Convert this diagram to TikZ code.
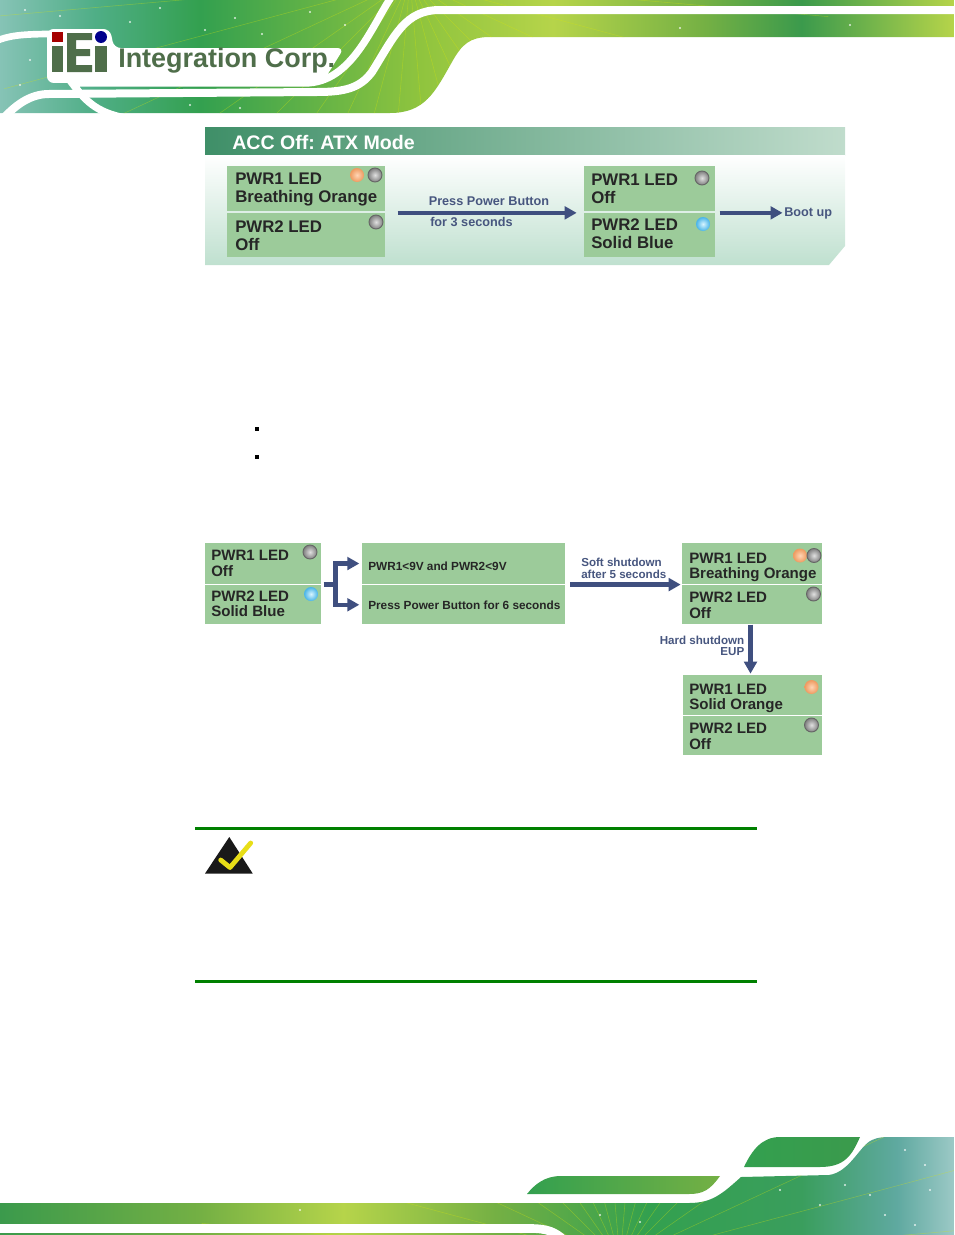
\documentclass[tikz,border=0pt]{standalone}
\usepackage{fontspec}
\setmainfont{Liberation Sans}
\usepackage{xcolor}
\usetikzlibrary{shapes,positioning,calc,arrows.meta}

\definecolor{panelgreen}{HTML}{9CCB9A}
\definecolor{flowblue}{HTML}{3F4F7F}
\definecolor{labelblue}{HTML}{47567F}
\definecolor{logogreen}{HTML}{4F6E4A}
\definecolor{rulegreen}{HTML}{008000}
\definecolor{titlea}{HTML}{3F8F68}
\definecolor{titleb}{HTML}{C0DCCC}
\definecolor{bodyend}{HTML}{BFE0CF}
\definecolor{teala}{HTML}{86C3B6}
\definecolor{tealb}{HTML}{4FAE86}
\definecolor{greena}{HTML}{33A04F}
\definecolor{greenb}{HTML}{3B9A4C}
\definecolor{greenc}{HTML}{74B044}
\definecolor{limea}{HTML}{8FC43E}
\definecolor{limeb}{HTML}{B6D44A}
\definecolor{seaa}{HTML}{3A9E5D}
\definecolor{seab}{HTML}{5FA9A0}
\definecolor{seac}{HTML}{9CC9C6}
\definecolor{orangeout}{HTML}{EE9A5F}
\definecolor{orangein}{HTML}{FFD5B5}
\definecolor{blueout}{HTML}{48B4E8}
\definecolor{bluein}{HTML}{D8F4FF}

\pgfdeclarehorizontalshading{headband}{100bp}{color(0bp)=(teala); color(25bp)=(teala);
  color(30bp)=(tealb); color(35.5bp)=(greena); color(47bp)=(limea);
  color(54bp)=(limeb); color(62bp)=(greenc); color(67bp)=(greenb); color(75bp)=(limeb); color(100bp)=(limeb)}
\pgfdeclarehorizontalshading{footband}{100bp}{color(0bp)=(greenb); color(25bp)=(greenb);
  color(35.5bp)=(greenc); color(43bp)=(limeb); color(51bp)=(greenc); color(59bp)=(greena);
  color(67bp)=(seaa); color(72bp)=(seab); color(75bp)=(seac); color(100bp)=(seac)}
\pgfdeclarehorizontalshading{titleband}{100bp}{color(0bp)=(titlea); color(25bp)=(titlea); color(75bp)=(titleb); color(100bp)=(titleb)}

\newcommand{\headshape}{(0,0) -- (954,0) -- (954,37) -- (490,37) .. controls (470,37) and (462,44) .. (452,62) .. controls (435,92) and (425,113) .. (390,113) -- (0,113) -- cycle}
\newcommand{\footshape}{(0,1203) -- (689,1203) .. controls (712,1203) and (722,1194) .. (741,1177) -- (829,1175) .. controls (850,1172) and (860,1145) .. (872,1140) .. controls (878,1137) and (885,1137) .. (890,1137) -- (954,1137) -- (954,1235) -- (0,1235) -- cycle}

\begin{document}
\begin{tikzpicture}[x=0.75pt, y=-0.75pt,
    panel/.style 2 args={anchor=north west, fill=panelgreen, inner sep=0pt, minimum width=#1*0.75pt, minimum height=#2*0.75pt},
    bigtext/.style={anchor=west, inner sep=0pt, align=left, text=black!85, font=\fontsize{12.6}{13.2}\selectfont\bfseries},
    smalltext/.style={anchor=west, inner sep=0pt, align=left, text=black!85, font=\fontsize{11.3}{11.7}\selectfont\bfseries},
    steptext/.style={anchor=west, inner sep=0pt, text=black!85, font=\fontsize{8.85}{9}\selectfont\bfseries},
    flowline/.style={draw=flowblue, line width=3.4pt},
    flow/.style={flowline, -{Triangle[length=9pt, width=9.5pt]}},
    flowlabel/.style={text=labelblue, inner sep=0pt, align=center, font=\fontsize{9.5}{9.6}\selectfont\bfseries},
    led/.style={circle, minimum size=14*0.75pt, inner sep=0pt},
    ledgray/.style={led, draw=black!60, line width=0.7pt, inner color=black!12, outer color=black!50},
    ledorange/.style={led, inner color=orangein, outer color=orangeout},
    ledblue/.style={led, inner color=bluein, outer color=blueout},
    ribbon/.style={draw=white, line cap=round},
    ray/.style={draw=yellow!85!green, line width=0.4pt, opacity=0.35},
    spark/.style={fill=white, opacity=0.8}
]
    \useasboundingbox (0,0) rectangle (954,1235);

    % Page header
    \shade[shading=headband] \headshape;
    \begin{scope}
        \clip \headshape;
        \foreach \a in {5,15,...,175} {
            \draw [ray] (410,-20) -- ++(\a:-420);
            \draw [ray] (410,-20) -- ++(\a:420);
        }
    \end{scope}
    \foreach \x/\y in {25/10,60/16,130/22,160/8,205/30,235/18,262/34,310/12,345/25,30/60,20/85,190/105,240/108,680/28,850/25} {
        \fill [spark] (\x,\y) circle [radius=1.2];
    }
    \draw [ribbon, line width=6pt] (954,10) -- (440,10) .. controls (405,10) and (395,35) .. (372,72) .. controls (360,88) and (345,92) .. (317,92) -- (49,94) .. controls (30,94) and (15,105) .. (0,122);
    \draw [ribbon, line width=5.5pt] (392,-4) .. controls (372,25) and (352,83) .. (305,83) -- (72,83) .. controls (85,100) and (95,112) .. (125,118);
    \draw [ribbon, line width=5pt] (-4,41) .. controls (8,36) and (20,34) .. (52,34);
    \fill [white, rounded corners=5pt] (47,29) -- (110,29) -- (114,48) -- (344,48) -- (324,80) -- (47,83) -- cycle;

    % Logo
    \fill [red!65!black] (52,32) rectangle (63,42);
    \fill [logogreen] (52,46) rectangle (63,72);
    \fill [logogreen] (67,33) -- (92,33) -- (92,40) -- (76,40) -- (76,49) -- (90,49) -- (90,56) -- (76,56) -- (76,65) -- (92,65) -- (92,72) -- (67,72) -- cycle;
    \fill [blue!55!black] (101,37) circle [radius=6];
    \fill [logogreen] (95,46) rectangle (107,72);
    \node [anchor=west, inner sep=0pt, text=logogreen, font=\fontsize{20.2}{20}\selectfont\bfseries] (logotext) at (118,61) {Integration Corp.};

    % Page footer
    \shade[shading=footband] \footshape;
    \shade[left color=greena, right color=greenb] (780,1137) -- (860,1137) .. controls (852,1155) and (845,1167) .. (820,1167) -- (744,1167) .. controls (752,1150) and (762,1137) .. (780,1137) -- cycle;
    \shade[left color=greena, right color=greenc] (561,1176) -- (720,1176) .. controls (710,1190) and (703,1194) .. (689,1194) -- (527,1194) .. controls (535,1184) and (545,1176) .. (561,1176) -- cycle;
    \begin{scope}
        \clip \footshape;
        \foreach \a in {5,15,...,175} {
            \draw [ray] (620,1260) -- ++(\a:-420);
            \draw [ray] (620,1260) -- ++(\a:420);
        }
    \end{scope}
    \foreach \x/\y in {780/1190,820/1205,845/1185,870/1195,885/1215,905/1150,925/1165,930/1190,915/1225,640/1222,600/1215,300/1210} {
        \fill [spark] (\x,\y) circle [radius=1.2];
    }
    \draw [ribbon, line width=6.5pt, line cap=butt] (-2,1228.5) -- (530,1228.5) .. controls (548,1228.5) and (555,1232) .. (564,1240);

    % ACC off panel
    \shade[shading=titleband] (205,127) rectangle (845,155);
    \shade[top color=white, bottom color=bodyend] (205,155) -- (845,155) -- (845,246) -- (829,265) -- (205,265) -- cycle;
    \node [anchor=west, inner sep=0pt, text=white, font=\fontsize{14.7}{15}\selectfont\bfseries\frenchspacing] (acctitle) at (232,142.5) {ACC Off: ATX Mode};

    \node [panel={158}{45}] (bootApwrone) at (227,166) {};
    \node [panel={158}{44.5}] (bootApwrtwo) at (227,212.5) {};
    \node [panel={131}{45}] (bootBpwrone) at (584,166) {};
    \node [panel={131}{44.5}] (bootBpwrtwo) at (584,212.5) {};
    \foreach \name/\x/\y/\txt in {bootAonetext/235/189.5/{PWR1 LED\\Breathing Orange}, bootAtwotext/235/237.7/{PWR2 LED\\Off},
        bootBonetext/591/190.2/{PWR1 LED\\Off}, bootBtwotext/591/235.7/{PWR2 LED\\Solid Blue}} {
        \node [bigtext] (\name) at (\x,\y) {\txt\vphantom{g}};
    }
    \foreach \name/\style/\x/\y in {ledAa/ledorange/357/175, ledAb/ledgray/375/175, ledAc/ledgray/376/222,
        ledBa/ledgray/702/178, ledBb/ledblue/703/224} {
        \node [\style] (\name) at (\x,\y) {};
    }

    \coordinate (bootAmid) at ([yshift=-1pt]bootApwrone.south east);
    \coordinate (bootBmid) at ([yshift=-1pt]bootBpwrone.south west);
    \coordinate (bootBout) at ([yshift=-1pt]bootBpwrone.south east);
    \coordinate (bootend) at ($(bootBout)+(67,0)$);
    \draw [flow, shorten <=9pt, shorten >=5.5pt] (bootAmid) -- (bootBmid);
    \draw [flow, shorten <=3pt] (bootBout) -- (bootend);
    \node [flowlabel] (presslabel) at (489,201) {Press Power Button};
    \node [flowlabel, anchor=west] (secondslabel) at (430,222) {for 3 seconds};
    \node [flowlabel, anchor=west] (bootlabel) at (784,213) {Boot up};

    % Bullets
    \fill (254.5,427) rectangle (258.5,431);
    \fill (254.5,455) rectangle (258.5,459);

    % Shutdown flow
    \node [panel={116}{40.5}] (offpwrone) at (205,543) {};
    \node [panel={116}{39}] (offpwrtwo) at (205,585) {};
    \node [panel={203}{40.5}] (lowvolt) at (362,543) {};
    \node [panel={203}{39}] (presssix) at (362,585) {};
    \node [panel={140}{40.5}] (softpwrone) at (682,543) {};
    \node [panel={140}{39}] (softpwrtwo) at (682,585) {};
    \node [panel={139}{39.5}] (hardpwrone) at (683,675) {};
    \node [panel={139}{39}] (hardpwrtwo) at (683,716) {};
    \foreach \name/\x/\y/\txt in {offonetext/211/565.2/{PWR1 LED\\Off}, offtwotext/211/605.2/{PWR2 LED\\Solid Blue},
        softonetext/689/567.5/{PWR1 LED\\Breathing Orange}, softtwotext/689/607/{PWR2 LED\\Off},
        hardonetext/689/698.3/{PWR1 LED\\Solid Orange}, hardtwotext/689/737.8/{PWR2 LED\\Off}} {
        \node [smalltext] (\name) at (\x,\y) {\txt\vphantom{g}};
    }
    \node [steptext] (lowvolttext) at (368,566.5) {PWR1<9V and PWR2<9V};
    \node [steptext] (presssixtext) at (368,605) {Press Power Button for 6 seconds};
    \foreach \name/\style/\x/\y in {ledCa/ledgray/310/552, ledCb/ledblue/311/594, ledDa/ledorange/800/555.5, ledDb/ledgray/814/555.5,
        ledDc/ledgray/813.5/594, ledEa/ledorange/811.5/687, ledEb/ledgray/811.5/725} {
        \node [\style] (\name) at (\x,\y) {};
    }

    \coordinate (forkstart) at ([yshift=-0.4pt]offpwrone.south east);
    \coordinate (forkjoin) at ($(forkstart)+(14,0)$);
    \coordinate (softstart) at ([yshift=-0.4pt]lowvolt.south east);
    \coordinate (softend) at ([yshift=-0.4pt]softpwrone.south west);
    \coordinate (hardstart) at (softpwrtwo.south -| 750.5,0);
    \coordinate (hardend) at (hardpwrone.north -| 750.5,0);
    \draw [flowline, shorten <=1.5pt] (forkstart) -- (forkjoin);
    \draw [flow, shorten >=2pt] (forkjoin) |- (lowvolt.west);
    \draw [flow, shorten >=2pt] (forkjoin) |- (presssix.west);
    \draw [flow, shorten <=3.5pt, shorten >=1pt] (softstart) -- (softend);
    \draw [flow, shorten >=1pt] (hardstart) -- (hardend);
    \node [flowlabel, align=left, anchor=west, font=\fontsize{8.7}{9.5}\selectfont\bfseries] (softlabel) at (581,568.5) {Soft shutdown\\after 5 seconds};
    \node [flowlabel, align=right, anchor=east, font=\fontsize{8.7}{8.6}\selectfont\bfseries] (hardlabel) at (744.5,646) {Hard shutdown\\EUP};

    % Note
    \fill [rulegreen] (195,826.5) rectangle (757,830);
    \fill [rulegreen] (195,979.5) rectangle (757,983);
    \fill [black!90] (205,873.5) -- (229.3,837) -- (252.7,873.5) -- cycle;
    \draw [yellow!90!black, line width=3.6pt, line cap=round, line join=round] (220.7,860) -- (230,867.5) -- (250.7,843);
\end{tikzpicture}
\end{document}
